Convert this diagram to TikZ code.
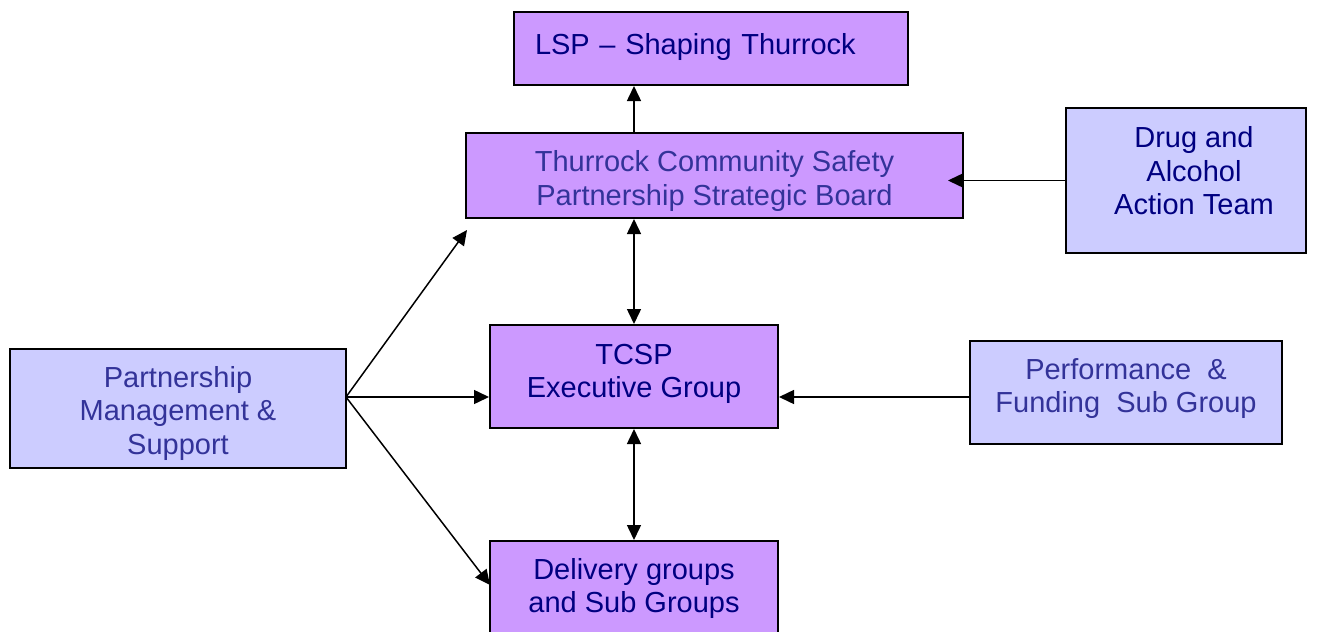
\documentclass[tikz,border=0pt]{standalone}
\usepackage{fontspec}
\setmainfont{Liberation Sans}
\usetikzlibrary{arrows.meta}

\definecolor{boxpurple}{HTML}{CC99FF}
\definecolor{boxlilac}{HTML}{CCCCFF}
\definecolor{navytext}{HTML}{000080}
\definecolor{bluetext}{HTML}{333399}

\tikzset{
  box/.style={draw=black, line width=1pt, align=center, inner sep=0pt,
    font=\fontsize{14.5}{16.7}\selectfont},
  purplebox/.style={box, fill=boxpurple},
  lilacbox/.style={box, fill=boxlilac},
  arr/.style={line width=0.75pt, -{Triangle[length=7.5pt, width=7pt]}},
  twoarr/.style={line width=0.75pt, {Triangle[length=7.5pt, width=7pt]}-{Triangle[length=7.5pt, width=7pt]}}
}

% text block moved up or down inside its box, the box keeps its size
\newcommand{\lines}[2][0pt]{\raisebox{#1}[\height][\depth]{\begin{tabular}{@{}c@{}}#2\end{tabular}}}

\begin{document}
\begin{tikzpicture}[x=0.5pt, y=-0.5pt]

  \clip (0,0) rectangle (1330,632);

  \node[purplebox, text=navytext, minimum width=197pt, minimum height=36.5pt,
    text width=176pt, align=left] (lsp) at (711,48.5)
    {\raisebox{1pt}[\height][\depth]{LSP -- Shaping Thurrock}};

  \node[purplebox, text=bluetext, minimum width=248.5pt, minimum height=42.5pt] (board) at (714.5,175.5)
    {\lines[-3.25pt]{Thurrock Community Safety\\Partnership Strategic Board}};

  \node[lilacbox, text=navytext, minimum width=120pt, minimum height=72.5pt] (drug) at (1186,180.5)
    {\lines[3pt]{\hspace*{8pt}Drug and\\\hspace*{8pt}Alcohol\\\hspace*{8pt}Action Team}};

  \node[purplebox, text=navytext, minimum width=144pt, minimum height=51.5pt] (tcsp) at (634,376.5)
    {\lines[1pt]{TCSP\\Executive Group}};

  \node[lilacbox, text=bluetext, minimum width=168pt, minimum height=59.5pt] (support) at (178,408.5)
    {\lines[-2.75pt]{Partnership\\Management \&\\Support}};

  \node[lilacbox, text=bluetext, minimum width=156pt, minimum height=51.5pt] (perf) at (1126,392.5)
    {\lines[1.5pt]{Performance\ \ \&\\Funding\ \ Sub Group}};

  \node[purplebox, text=navytext, minimum width=144pt, minimum height=52.5pt] (delivery) at (634,593.5)
    {\lines[2pt]{Delivery groups\\and Sub Groups}};

  \coordinate (fan) at (346,397);
  \coordinate (boardin) at (467,230);
  \coordinate (deliveryin) at (490,585);

  \draw[arr] (board.north -| tcsp.north) -- (lsp.south -| tcsp.north);
  \draw[arr] (drug.west) -- ([xshift=-8pt]board.east |- drug.west);
  \draw[twoarr] (board.south -| tcsp.north) -- (tcsp.north);
  \draw[twoarr] (tcsp.south) -- (delivery.north);
  \draw[arr] (perf.west |- fan) -- (tcsp.east |- fan);

  \draw[arr] (fan) -- (tcsp.west |- fan);
  \draw[arr] (fan) -- (boardin);
  \draw[arr] (fan) -- (deliveryin);

\end{tikzpicture}
\end{document}
